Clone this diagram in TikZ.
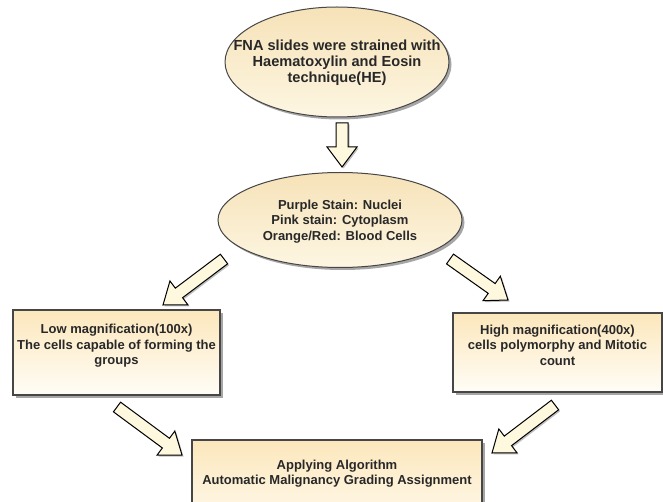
\documentclass[tikz,border=0pt]{standalone}
\usepackage{fontspec}
\setmainfont{Liberation Sans}
\usetikzlibrary{calc,shadows,shapes.geometric}
\definecolor{txt}{RGB}{40,40,40}
\definecolor{ellTop}{RGB}{246,226,184}
\definecolor{ellBot}{RGB}{253,246,226}
\definecolor{boxTop}{RGB}{252,231,188}
\definecolor{boxBot}{RGB}{255,253,246}
\definecolor{arrFill}{RGB}{253,248,222}
\definecolor{edge}{RGB}{70,70,70}
\newcommand{\blkarrow}[2]{%
  \coordinate (hb) at ($(#2)!20pt!(#1)$);
  \draw[blk] ($(#1)!6pt!90:(#2)$) -- ($(hb)!6pt!90:(#2)$) -- ($(hb)!15pt!90:(#2)$) -- (#2)
    -- ($(hb)!15pt!-90:(#2)$) -- ($(hb)!6pt!-90:(#2)$) -- ($(#1)!6pt!-90:(#2)$) -- cycle;
}
\begin{document}
\begin{tikzpicture}[x=1pt,y=-1pt,
  shad/.style={drop shadow={shadow xshift=2.5pt,shadow yshift=-2.5pt,opacity=0.35,fill=black}},
  ell/.style={ellipse,draw=edge,line width=1pt,shad,top color=ellTop,bottom color=ellBot,inner sep=0pt},
  box/.style={rectangle,draw=edge,line width=1.1pt,shad,top color=boxTop,bottom color=boxBot,inner sep=0pt},
  lbl/.style={align=center,text=txt,font=\bfseries\fontsize{13}{15.5}\selectfont,inner sep=0pt},
  blk/.style={draw=black,line width=1pt,fill=arrFill,line join=miter,
    drop shadow={shadow xshift=1.5pt,shadow yshift=-1.5pt,opacity=0.25,fill=black}}]
\path[use as bounding box] (0,0) rectangle (663,502);
\clip (0,0) rectangle (663,502);
% shapes
\node[ell,minimum width=224pt,minimum height=110pt] (e1) at (337,62) {};
\node[lbl,font=\bfseries\fontsize{14.6}{16}\selectfont] (e1t) at (337,63) {FNA slides were strained with\\Haematoxylin and Eosin\\technique(HE)};
\node[ell,minimum width=244pt,minimum height=95pt] (e2) at (340,220) {};
\node[lbl] (e2t) at (340,221.5) {Purple Stain: Nuclei\\Pink stain: Cytoplasm\\Orange/Red: Blood Cells};
\node[box,minimum width=207pt,minimum height=85pt] (b1) at (116.5,352.5) {};
\node[lbl] (b1t) at (116.5,346) {Low magnification(100x)\\The cells capable of forming the\\groups};
\node[box,minimum width=209pt,minimum height=79pt] (b2) at (557.5,352.5) {};
\node[lbl] (b2t) at (557.5,345) {High magnification(400x)\\cells polymorphy and Mitotic\\count};
\node[box,minimum width=290pt,minimum height=100pt] (b3) at (337,490) {};
\node[lbl] (b3t) at (337,473.5) {Applying Algorithm\\Automatic Malignancy Grading Assignment};
% arrows
\coordinate (a1s) at (342,123); \coordinate (a1e) at (342,167);
\coordinate (a2s) at (224,259); \coordinate (a2e) at (163,305);
\coordinate (a3s) at (450,259); \coordinate (a3e) at (508,300);
\coordinate (a4s) at (117,407); \coordinate (a4e) at (182,455);
\coordinate (a5s) at (555,405); \coordinate (a5e) at (492,453);
\blkarrow{a1s}{a1e}
\blkarrow{a2s}{a2e}
\blkarrow{a3s}{a3e}
\blkarrow{a4s}{a4e}
\blkarrow{a5s}{a5e}
\end{tikzpicture}
\end{document}
